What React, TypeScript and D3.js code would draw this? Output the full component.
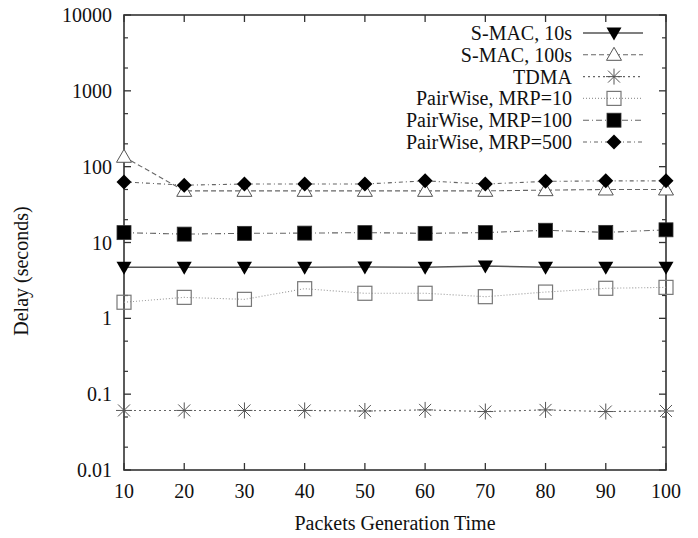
import React from "react";
import * as d3 from "d3";

const xValues = [10, 20, 30, 40, 50, 60, 70, 80, 90, 100];
const smac10 = [4.7, 4.7, 4.7, 4.7, 4.75, 4.7, 4.9, 4.7, 4.7, 4.7];
const smac100 = [135, 48, 48, 48, 48, 48, 48, 49, 50, 50];
const tdma = [0.061, 0.061, 0.061, 0.061, 0.06, 0.062, 0.059, 0.062, 0.059, 0.06];
const pw10 = [1.63, 1.89, 1.78, 2.46, 2.14, 2.14, 1.93, 2.22, 2.49, 2.56];
const pw100 = [13.5, 12.9, 13.2, 13.3, 13.5, 13.2, 13.5, 14.5, 13.6, 14.7];
const pw500 = [63, 57, 59, 59, 59, 65, 59, 64, 65, 65];
const yTicks = [0.01, 0.1, 1, 10, 100, 1000, 10000];
const yTickLabels = ["0.01", "0.1", "1", "10", "100", "1000", "10000"];
const minorMultipliers = [2, 5];

type Marker = "tri-down" | "tri-up" | "star" | "sq-open" | "sq-fill" | "diamond";
const seriesNames = [
  "S-MAC, 10s",
  "S-MAC, 100s",
  "TDMA",
  "PairWise, MRP=10",
  "PairWise, MRP=100",
  "PairWise, MRP=500",
];
const seriesData = [smac10, smac100, tdma, pw10, pw100, pw500];
const seriesMarkers: Marker[] = ["tri-down", "tri-up", "star", "sq-open", "sq-fill", "diamond"];
const seriesDash = ["", "5,3", "2,3", "1,2", "6,3,1,3", "4,3,1,3"];
const seriesStroke = ["#555", "#666", "#666", "#999", "#666", "#666"];

const M = { left: 124, right: 666, top: 15, bottom: 470 };
const TXT: React.CSSProperties = {
  fontFamily: '"Liberation Serif"',
  fontSize: "20px",
  fill: "#111",
};

function MarkerGlyph({ type, x, y }: { type: Marker; x: number; y: number }) {
  switch (type) {
    case "tri-down":
      return <path d={`M${x - 7.5},${y - 5.5} L${x + 7.5},${y - 5.5} L${x},${y + 7.5} Z`} fill="#000" />;
    case "tri-up":
      return (
        <path
          d={`M${x - 7.5},${y + 5.5} L${x + 7.5},${y + 5.5} L${x},${y - 7.5} Z`}
          fill="#fff"
          stroke="#555"
          strokeWidth={1}
        />
      );
    case "star":
      return (
        <g stroke="#555" strokeWidth={1}>
          <line x1={x - 8} y1={y} x2={x + 8} y2={y} />
          <line x1={x} y1={y - 8} x2={x} y2={y + 8} />
          <line x1={x - 6} y1={y - 6} x2={x + 6} y2={y + 6} />
          <line x1={x - 6} y1={y + 6} x2={x + 6} y2={y - 6} />
        </g>
      );
    case "sq-open":
      return <rect x={x - 7} y={y - 7} width={14} height={14} fill="none" stroke="#777" strokeWidth={1.2} />;
    case "sq-fill":
      return <rect x={x - 7} y={y - 7} width={14} height={14} fill="#000" stroke="#333" strokeWidth={0.8} />;
    case "diamond":
      return <path d={`M${x},${y - 7.5} L${x + 7.5},${y} L${x},${y + 7.5} L${x - 7.5},${y} Z`} fill="#000" />;
  }
}

export default function App() {
  const x = d3.scaleLinear().domain([10, 100]).range([M.left, M.right]);
  const y = d3.scaleLog().domain([0.01, 10000]).range([M.bottom, M.top]);
  const line = d3
    .line<number>()
    .x((_, i) => x(xValues[i]))
    .y((d) => y(d));

  const minor: number[] = [];
  yTicks.slice(0, -1).forEach((t) => minorMultipliers.forEach((m) => minor.push(t * m)));

  const legendX = 572;
  const legendY0 = 33;
  const legendDy = 21.8;

  return (
    <svg width={698} height={538} style={{ position: "absolute", left: 0, top: 0, background: "#fff" }}>
      <rect x={0} y={0} width={698} height={538} fill="#fff" />
      {yTicks.map((t, i) => (
        <g key={"yt" + i}>
          <line x1={M.left} x2={M.left + 7} y1={y(t)} y2={y(t)} stroke="#333" strokeWidth={1.3} />
          <line x1={M.right} x2={M.right - 7} y1={y(t)} y2={y(t)} stroke="#333" strokeWidth={1.3} />
          <text x={112} y={y(t)} dy="0.35em" textAnchor="end" style={TXT}>
            {yTickLabels[i]}
          </text>
        </g>
      ))}
      {minor.map((t, i) => (
        <g key={"ym" + i}>
          <line x1={M.left} x2={M.left + 4} y1={y(t)} y2={y(t)} stroke="#333" strokeWidth={1.2} />
          <line x1={M.right} x2={M.right - 4} y1={y(t)} y2={y(t)} stroke="#333" strokeWidth={1.2} />
        </g>
      ))}
      {xValues.map((v) => (
        <g key={"xt" + v}>
          <line x1={x(v)} x2={x(v)} y1={M.bottom} y2={M.bottom - 7} stroke="#333" strokeWidth={1.3} />
          <line x1={x(v)} x2={x(v)} y1={M.top} y2={M.top + 7} stroke="#333" strokeWidth={1.3} />
          <text x={x(v)} y={498} textAnchor="middle" style={TXT}>
            {v}
          </text>
        </g>
      ))}
      <rect
        x={M.left}
        y={M.top}
        width={M.right - M.left}
        height={M.bottom - M.top}
        fill="none"
        stroke="#333"
        strokeWidth={1.6}
      />
      {seriesData.map((data, si) => (
        <g key={"s" + si}>
          <path
            d={line(data) || ""}
            fill="none"
            stroke={seriesStroke[si]}
            strokeWidth={si === 0 ? 1.5 : 1.1}
            strokeDasharray={seriesDash[si]}
          />
          {data.map((d, i) => (
            <MarkerGlyph key={i} type={seriesMarkers[si]} x={x(xValues[i])} y={y(d)} />
          ))}
        </g>
      ))}
      {seriesNames.map((name, si) => {
        const ly = legendY0 + si * legendDy;
        return (
          <g key={"l" + si}>
            <text x={legendX} y={ly} dy="0.35em" textAnchor="end" style={TXT}>
              {name}
            </text>
            <line
              x1={583}
              x2={643}
              y1={ly}
              y2={ly}
              stroke={seriesStroke[si]}
              strokeWidth={si === 0 ? 1.5 : 1.1}
              strokeDasharray={seriesDash[si]}
            />
            <MarkerGlyph type={seriesMarkers[si]} x={614} y={ly} />
          </g>
        );
      })}
      <text x={395} y={530} textAnchor="middle" style={TXT}>
        Packets Generation Time
      </text>
      <text transform={`translate(28,271) rotate(-90)`} textAnchor="middle" style={TXT}>
        Delay (seconds)
      </text>
    </svg>
  );
}
